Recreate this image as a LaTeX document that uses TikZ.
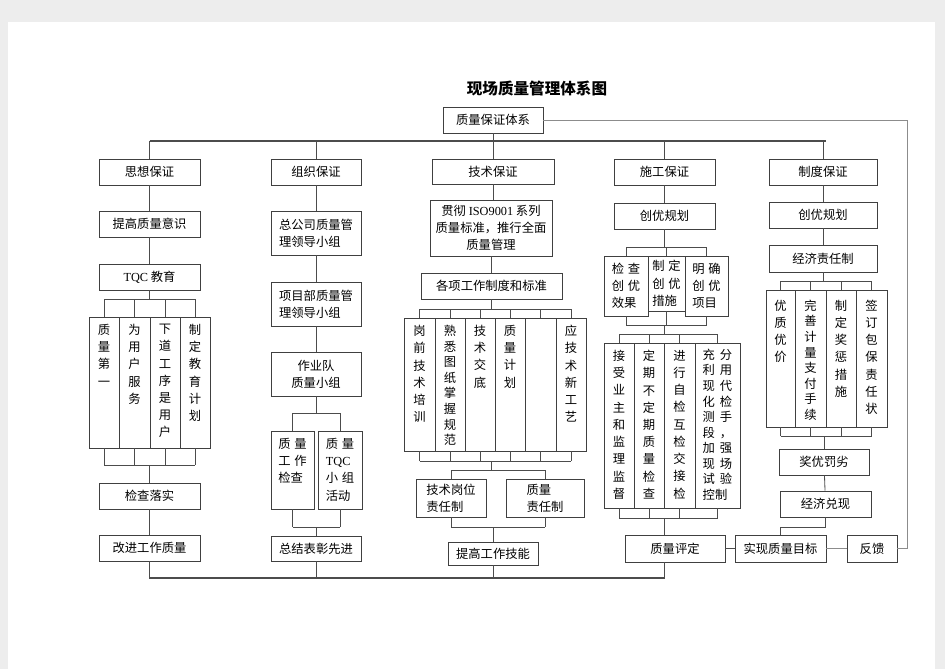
\documentclass[tikz,border=0pt]{standalone}
\usepackage{fontspec}
\setmainfont{Noto Sans CJK SC}
\newfontfamily\lat{Liberation Serif}
\usetikzlibrary{positioning}
\tikzset{
  box/.style={draw=black!75,line width=0.6pt,inner sep=0pt,font=\fontsize{10.5}{14.7}\selectfont},
  ln/.style={draw=black!70,line width=0.7pt},
  vt/.style={anchor=north,align=center,inner sep=0pt,font=\fontsize{10.5}{14.7}\selectfont},
  serre/.style={font=\fontsize{10.5}{13.3}\selectfont},
}
% box from corner (x1,y1) to (x2,y2), in pixels
\newcommand\bx[7][]{\node[box,#1,minimum width={(#5-#3)*0.03cm},minimum height={(#6-#4)*0.03cm}] (#2) at ({(#3+#5)/2},{(#4+#6)/2}) {#7};}
\newcommand\gp{\hspace{0.3em}}

\begin{document}
\begin{tikzpicture}[x=0.03cm,y=-0.03cm]
% fond
\useasboundingbox (0,0) rectangle (945,669);
\fill[black!7] (0,0) rectangle (945,669);
\fill[white] (8,22) rectangle (935,669);
% titre
\node[font=\fontsize{13.3}{16}\selectfont\bfseries] (titre) at (537,89) {现场质量管理体系图};
\bx{zb}{443}{107}{543}{133}{质量保证体系}

% colonne 1
\bx{sx}{99}{159}{200}{185}{思想保证}
\bx{tg}{99}{211}{200}{237}{提高质量意识}
\bx{tqc}{99}{264}{200}{290}{{\lat TQC} 教育}
\bx{q1}{89}{317}{119}{448}{}
\bx{q2}{119}{317}{150}{448}{}
\bx{q3}{150}{317}{180}{448}{}
\bx{q4}{180}{317}{210}{448}{}
\bx{jc}{99}{483}{200}{509}{检查落实}
\bx{gj}{99}{535}{200}{561}{改进工作质量}
\node[vt,below=2.2mm of q1.north] (q1t) {质\\量\\第\\一};
\node[vt,below=2.2mm of q2.north] (q2t) {为\\用\\户\\服\\务};
\node[vt,below=2.2mm of q3.north] (q3t) {下\\道\\工\\序\\是\\用\\户};
\node[vt,below=2.2mm of q4.north] (q4t) {制\\定\\教\\育\\计\\划};

% colonne 2
\bx{zz}{271}{159}{361}{185}{组织保证}
\bx[align=left]{zgs}{271}{211}{361}{255}{总公司质量管\\理领导小组}
\bx[align=left]{xmb}{271}{282}{361}{326}{项目部质量管\\理领导小组}
\bx[align=center]{zyd}{271}{352}{361}{396}{作业队\\质量小组}
\bx{zj}{271}{431}{314}{509}{}
\bx{tq}{318}{431}{362}{509}{}
\bx{zjb}{271}{536}{361}{561}{总结表彰先进}
\node[vt,align=left,below=2.2mm of zj.north] (zjt) {质\gp 量\\工\gp 作\\检查};
\node[vt,align=left,below=2.2mm of tq.north] (tqt) {质\gp 量\\{\lat TQC}\\小\gp 组\\活动};

% colonne 3
\bx{js}{432}{159}{554}{184}{技术保证}
\bx[align=center]{gc}{430}{200}{552}{256}{贯彻 {\lat ISO9001} 系列\\质量标准，推行全面\\质量管理}
\bx{gx}{421}{273}{562}{299}{各项工作制度和标准}
\bx{t1}{404}{318}{435}{451}{}
\bx{t2}{435}{318}{465}{451}{}
\bx{t3}{465}{318}{495}{451}{}
\bx{t4}{495}{318}{525}{451}{}
\bx{t5}{525}{318}{556}{451}{}
\bx{t6}{556}{318}{586}{451}{}
\bx[align=left]{jg}{416}{479}{486}{517}{技术岗位\\责任制}
\bx[align=left]{zr}{506}{479}{584}{517}{质量\\责任制}
\bx{tj}{448}{542}{538}{565}{提高工作技能}
\node[vt,below=2.2mm of t1.north] (t1t) {岗\\前\\技\\术\\培\\训};
\node[vt,serre,below=2.2mm of t2.north] (t2t) {熟\\悉\\图\\纸\\掌\\握\\规\\范};
\node[vt,below=2.2mm of t3.north] (t3t) {技\\术\\交\\底};
\node[vt,below=2.2mm of t4.north] (t4t) {质\\量\\计\\划};
\node[vt,below=2.2mm of t6.north] (t6t) {应\\技\\术\\新\\工\\艺};

% colonne 4
\bx{sg}{614}{159}{715}{185}{施工保证}
\bx{cy}{614}{203}{715}{229}{创优规划}
\bx[align=left]{s1}{604}{256}{648}{316}{检\gp 查\\创\gp 优\\效果}
\bx[align=left]{s2}{648}{256}{685}{311}{制\gp 定\\创\gp 优\\措施}
\bx[align=left]{s3}{685}{256}{728}{316}{明\gp 确\\创\gp 优\\项目}
\bx{u1}{604}{343}{634}{508}{}
\bx{u2}{634}{343}{664}{508}{}
\bx{u3}{664}{343}{695}{508}{}
\bx{u4}{695}{343}{740}{508}{}
\bx{pd}{625}{535}{725}{562}{质量评定}
\node[vt,below=2.2mm of u1.north] (u1t) {接\\受\\业\\主\\和\\监\\理\\监\\督};
\node[vt,below=2.2mm of u2.north] (u2t) {定\\期\\不\\定\\期\\质\\量\\检\\查};
\node[vt,below=2.2mm of u3.north] (u3t) {进\\行\\自\\检\\互\\检\\交\\接\\检};
\node[vt,serre,align=left,below=1.8mm of u4.north] (u4t) {充\hspace{0.4em}分\\利\hspace{0.4em}用\\现\hspace{0.4em}代\\化\hspace{0.4em}检\\测\hspace{0.4em}手\\段\hspace{0.4em}，\\加\hspace{0.4em}强\\现\hspace{0.4em}场\\试\hspace{0.4em}验\\控制};

% colonne 5
\bx{zd}{769}{159}{877}{185}{制度保证}
\bx{cyb}{769}{202}{877}{228}{创优规划}
\bx{jj}{769}{245}{877}{272}{经济责任制}
\bx{d1}{766}{290}{795}{427}{}
\bx{d2}{795}{290}{826}{427}{}
\bx{d3}{826}{290}{856}{427}{}
\bx{d4}{856}{290}{887}{427}{}
\bx{jy}{779}{449}{869}{475}{奖优罚劣}
\bx{dx}{780}{491}{871}{517}{经济兑现}
\bx{mb}{735}{535}{826}{562}{实现质量目标}
\bx{fk}{847}{535}{897}{562}{反馈}
\node[vt,below=3mm of d1.north] (d1t) {优\\质\\优\\价};
\node[vt,serre,below=3mm of d2.north] (d2t) {完\\善\\计\\量\\支\\付\\手\\续};
\node[vt,below=3mm of d3.north] (d3t) {制\\定\\奖\\惩\\措\\施};
\node[vt,below=3mm of d4.north] (d4t) {签\\订\\包\\保\\责\\任\\状};

% liaisons principales
\draw[ln] (zb.south) -- (zb.south |- 0,141);
\draw[ln,line width=0.9pt] (sx.north |- 0,141) -- (826,141);
\foreach \n in {sx,zz,js,sg,zd}
    \draw[ln] (\n.north) -- (\n.north |- 0,141);
\draw[ln,line width=0.9pt] (gj.south) -- (gj.south |- 0,578) -- (sg |- 0,578) -- (sg |- pd.south);
\foreach \n in {zjb,tj}
    \draw[ln] (\n.south) -- (\n.south |- 0,578);
\draw[ln,black!45] (fk.east) -- ++(10,0) |- (zb.east);

% liaisons colonne 1
\draw[ln] (sx) -- (tg) -- (tqc);
\draw[ln] (tqc.south) -- (tqc.south |- 0,299);
\draw[ln] (q1.north |- 0,299) -- (q4.north |- 0,299);
\draw[ln] (q1.south |- 0,465) -- (q4.south |- 0,465);
\foreach \n in {q1,q2,q3,q4}
    {
    \draw[ln] (\n.north) -- (\n.north |- 0,299);
    \draw[ln] (\n.south) -- (\n.south |- 0,465);
    }
\draw[ln] (jc.north) -- (jc.north |- 0,465);
\draw[ln] (jc) -- (gj);

% liaisons colonne 2
\draw[ln] (zz) -- (zgs) -- (xmb) -- (zyd);
\draw[ln] (zyd.south) -- (zyd.south |- 0,413);
\draw[ln] (zj.north |- 0,413) -- (tq.north |- 0,413);
\draw[ln] (zj.south |- 0,527) -- (tq.south |- 0,527);
\foreach \n in {zj,tq}
    {
    \draw[ln] (\n.north) -- (\n.north |- 0,413);
    \draw[ln] (\n.south) -- (\n.south |- 0,527);
    }
\draw[ln] (zjb.north) -- (zjb.north |- 0,527);

% liaisons colonne 3
\draw[ln] (js.south) -- (js.south |- gc.north);
\draw[ln] (gc.south) -- (gc.south |- gx.north);
\draw[ln] (gx.south) -- (gx.south |- 0,309);
\draw[ln] (t1.north |- 0,309) -- (t6.north |- 0,309);
\draw[ln] (t1.south |- 0,461) -- (t6.south |- 0,461);
\foreach \n in {t1,t2,t3,t4,t5,t6}
    {
    \draw[ln] (\n.north) -- (\n.north |- 0,309);
    \draw[ln] (\n.south) -- (\n.south |- 0,461);
    }
\draw[ln] (gx.south |- 0,461) -- (gx.south |- 0,470);
\draw[ln] (jg.north |- 0,470) -- (zr.north |- 0,470);
\draw[ln] (jg.south |- 0,527) -- (zr.south |- 0,527);
\foreach \n in {jg,zr}
    {
    \draw[ln] (\n.north) -- (\n.north |- 0,470);
    \draw[ln] (\n.south) -- (\n.south |- 0,527);
    }
\draw[ln] (tj.north) -- (tj.north |- 0,527);

% liaisons colonne 4
\draw[ln] (sg) -- (cy);
\draw[ln] (cy.south) -- (cy.south |- 0,247);
\draw[ln] (s1.north |- 0,247) -- (s3.north |- 0,247);
\draw[ln] (s1.south |- 0,325) -- (s3.south |- 0,325);
\foreach \n in {s1,s2,s3}
    {
    \draw[ln] (\n.north) -- (\n.north |- 0,247);
    \draw[ln] (\n.south) -- (\n.south |- 0,325);
    }
\draw[ln] (cy.south |- 0,325) -- (cy.south |- 0,334);
\draw[ln] (u1.north |- 0,334) -- (u4.north |- 0,334);
\draw[ln] (u1.south |- 0,518) -- (u4.south |- 0,518);
\foreach \n in {u1,u2,u3,u4}
    {
    \draw[ln] (\n.north) -- (\n.north |- 0,334);
    \draw[ln] (\n.south) -- (\n.south |- 0,518);
    }
\draw[ln] (sg |- 0,518) -- (sg |- pd.north);
\draw[ln] (pd) -- (mb);

% liaisons colonne 5
\draw[ln] (zd) -- (cyb) -- (jj);
\draw[ln] (jj.south) -- (jj.south |- 0,281);
\draw[ln] (d1.north |- 0,281) -- (d4.north |- 0,281);
\draw[ln] (d1.south |- 0,436) -- (d4.south |- 0,436);
\foreach \n in {d1,d2,d3,d4}
    {
    \draw[ln] (\n.north) -- (\n.north |- 0,281);
    \draw[ln] (\n.south) -- (\n.south |- 0,436);
    }
\draw[ln] (jy.north) -- (jy.north |- 0,436);
\draw[ln] (jy) -- (dx);
\draw[ln] (dx.south) -- ++(0,10) -| (mb.north);
\draw[ln,black!45] (mb) -- (fk);
\end{tikzpicture}
\end{document}
